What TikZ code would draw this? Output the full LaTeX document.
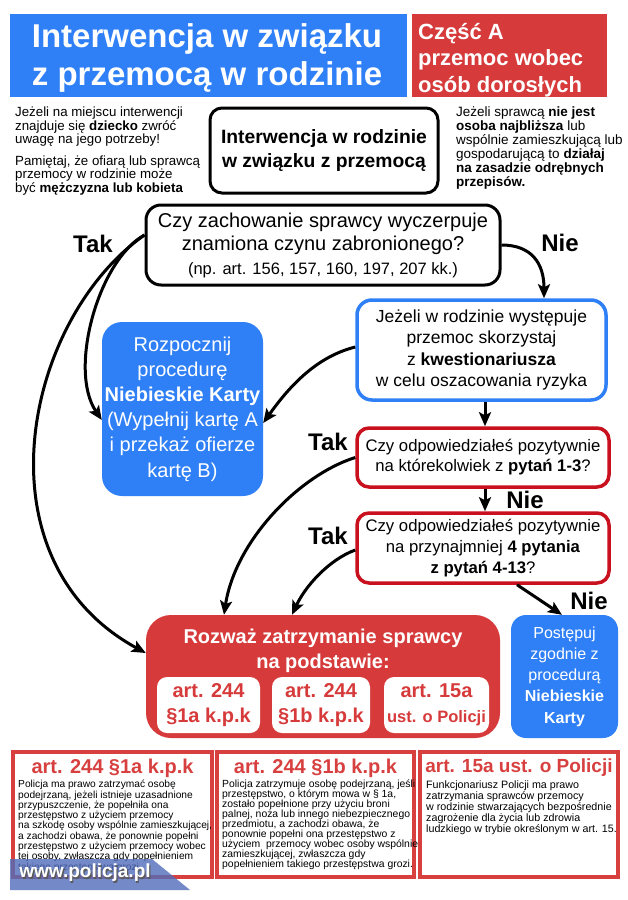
\documentclass[tikz,border=0pt]{standalone}
\usepackage{fontspec}
\setmainfont{Liberation Sans}
\usetikzlibrary{arrows.meta}
\definecolor{ttlblue}{RGB}{47,128,246}
\definecolor{ttlred}{RGB}{214,58,58}
\definecolor{qred}{RGB}{200,16,30}
\definecolor{frred}{RGB}{216,64,64}
\definecolor{banner}{RGB}{82,108,186}
\newcommand{\fsz}[2]{\fontsize{#1pt}{#2pt}\selectfont}
\begin{document}
\begin{tikzpicture}[x=1pt,y=-1pt,
  arr/.style={line width=3pt,-{Stealth[length=14pt,width=12pt,inset=3pt]}},
  lbl/.style={inner sep=0pt,font=\bfseries\fsz{24}{24}},
  wbox/.style={fill=white,rounded corners=10pt,minimum height=56pt,inner sep=0pt,text=ttlred,font=\bfseries\fsz{20}{25},align=center},
  frame/.style={draw=frred,line width=3.5pt,minimum height=125pt,inner sep=0pt},
  ftitle/.style={inner sep=0pt,text=frred,font=\bfseries\fsz{20}{20}},
  fbody/.style={anchor=north west,inner sep=0pt,align=left}
]
\useasboundingbox (0,0) rectangle (628,900);
\fill[white] (0,0) rectangle (628,900);

% header
\node[fill=ttlblue,minimum width=397pt,minimum height=83pt,inner sep=0pt] (title) at (208.5,55.5) {};
\node[inner sep=0pt,text=white,font=\bfseries\fsz{33}{38},align=center] (titletxt) at (207,58) {Interwencja w związku\\z przemocą w rodzinie};
\node[fill=ttlred,minimum width=195pt,minimum height=83pt,inner sep=0pt] (partA) at (509.5,55.5) {};
\node[anchor=west,inner sep=0pt,text=white,font=\bfseries\fsz{22}{26.5},align=left] (partAtxt) at (418,60) {Część A\\przemoc wobec\\osób dorosłych};

% notes
\node[anchor=north west,inner sep=0pt,align=left,font=\fsz{13.3}{13.5}] (noteL) at (15,107) {Jeżeli na miejscu interwencji\\znajduje się \textbf{dziecko} zwróć\\uwagę na jego potrzeby!\\[8pt]Pamiętaj, że ofiarą lub sprawcą\\przemocy w rodzinie może\\być \textbf{mężczyzna lub kobieta}};
\node[draw,line width=3pt,rounded corners=12pt,minimum width=228pt,minimum height=85pt,inner sep=0pt,font=\bfseries\fsz{19.3}{24},align=center] (intro) at (324,150.5) {Interwencja w rodzinie\\w związku z przemocą};
\node[anchor=north west,inner sep=0pt,align=left,font=\fsz{13.5}{14}] (noteR) at (456,107) {Jeżeli sprawcą \textbf{nie jest}\\\textbf{osoba najbliższa} lub\\wspólnie zamieszkującą lub\\gospodarującą to \textbf{działaj}\\\textbf{na zasadzie odrębnych}\\\textbf{przepisów.}};

% question 1
\node[draw,line width=3pt,rounded corners=15pt,minimum width=354pt,minimum height=80pt,inner sep=0pt,align=center,font=\fsz{20}{23.5}] (q1) at (323,245) {Czy zachowanie sprawcy wyczerpuje\\znamiona czynu zabronionego?\\{\fsz{16.5}{20}(np. art. 156, 157, 160, 197, 207 kk.)}};

% questionnaire
\node[draw=ttlblue,line width=3.5pt,rounded corners=15pt,minimum width=249pt,minimum height=100pt,inner sep=0pt,align=center,font=\fsz{17.5}{21.5}] (quest) at (481.5,350) {Jeżeli w rodzinie występuje\\przemoc skorzystaj\\z \textbf{kwestionariusza}\\w celu oszacowania ryzyka};

\node[fill=ttlblue,rounded corners=20pt,minimum width=161pt,minimum height=174pt,inner sep=0pt,align=center,text=white,font=\fsz{20}{25.2}] (rozp) at (182.5,409) {Rozpocznij\\procedurę\\\textbf{Niebieskie Karty}\\(Wypełnij kartę A\\i przekaż ofierze\\kartę B)};

\node[draw=qred,line width=3.5pt,rounded corners=12pt,minimum width=252pt,minimum height=59pt,inner sep=0pt,align=center,font=\fsz{16.7}{20}] (r1) at (483,457.5) {Czy odpowiedziałeś pozytywnie\\na którekolwiek z \textbf{pytań 1-3}?};
\node[draw=qred,line width=3.5pt,rounded corners=12pt,minimum width=252pt,minimum height=70pt,inner sep=0pt,align=center,font=\fsz{16.7}{21}] (r2) at (483,548) {Czy odpowiedziałeś pozytywnie\\na przynajmniej \textbf{4 pytania}\\\textbf{z pytań 4-13}?};

% detention box
\node[fill=ttlred,rounded corners=25pt,minimum width=354pt,minimum height=123pt,inner sep=0pt] (det) at (323,676.5) {};
\node[inner sep=0pt,text=white,font=\bfseries\fsz{20}{25},align=center] (dettitle) at (323,651) {Rozważ zatrzymanie sprawcy\\na podstawie:};
\node[wbox,minimum width=103pt] (wa) at (208.5,705) {art. 244\\§1a k.p.k};
\node[wbox,minimum width=98pt] (wb) at (321,705) {art. 244\\§1b k.p.k};
\node[wbox,minimum width=105pt] (wc) at (436.5,705) {art. 15a\\{\fsz{16.5}{25}ust. o Policji}};

\node[fill=ttlblue,rounded corners=15pt,minimum width=107pt,minimum height=123pt,inner sep=0pt,align=center,text=white,font=\fsz{16}{21.3}] (post) at (564.5,676.5) {Postępuj\\zgodnie z\\procedurą\\\textbf{Niebieskie}\\\textbf{Karty}};

% labels
\node[lbl] (tak1) at (93,244) {Tak};
\node[lbl] (nie1) at (560,243) {Nie};
\node[lbl] (tak2) at (328,442) {Tak};
\node[lbl] (nie2) at (525,500) {Nie};
\node[lbl] (tak3) at (328,536) {Tak};
\node[lbl] (nie3) at (589,601) {Nie};

% arrows
\draw[arr] ([yshift=10pt]q1.west) .. controls +(-46,25) and +(-34,-50) .. ([yshift=-11pt]rozp.west);
\draw[arr] ([yshift=10pt]q1.west) .. controls +(-121,85) and +(-171,-93) .. ([yshift=23.5pt]det.west);
\draw[arr] (q1.east) .. controls +(30,0) and +(0,-35) .. ([xshift=62.5pt]quest.north);
\draw[arr] ([yshift=3pt]quest.west) .. controls +(-40,10) and +(25,-35) .. ([yshift=-14pt]rozp.east);
\draw[arr] ([xshift=3.5pt]quest.south) -- ([xshift=2pt]r1.north);
\draw[arr] ([xshift=2pt]r1.south) -- ([xshift=2pt]r2.north);
\draw[arr] (r1.west) .. controls +(-57,18) and +(11,-73) .. ([xshift=-99pt]det.north);
\draw[arr] ([yshift=-2pt]r2.west) .. controls +(-27,10) and +(13,-28) .. ([xshift=-31pt]det.north);
\draw[arr] ([xshift=34pt]r2.south) -- ([xshift=-2.5pt]post.north);

% bottom frames
\node[frame,minimum width=199pt] (f1) at (112.5,814.5) {};
\node[frame,minimum width=197pt] (f2) at (315.5,814.5) {};
\node[frame,minimum width=198pt] (f3) at (519,814.5) {};
\node[ftitle] (t1) at (112.5,768) {art. 244 §1a k.p.k};
\node[ftitle] (t2) at (315.5,768) {art. 244 §1b k.p.k};
\node[ftitle,font=\bfseries\fsz{19}{20}] (t3) at (519,768) {art. 15a ust. o Policji};
\node[fbody,font=\fsz{10.2}{10.3}] (b1) at (18,780) {Policja ma prawo zatrzymać osobę\\podejrzaną, jeżeli istnieje uzasadnione\\przypuszczenie, że popełniła ona\\przestępstwo z użyciem przemocy\\na szkodę osoby wspólnie zamieszkującej,\\a zachodzi obawa, że ponownie popełni\\przestępstwo z użyciem przemocy wobec\\tej osoby, zwłaszcza gdy popełnieniem\\takiego przestępstwa grozi.};
\node[fbody,font=\fsz{10.4}{10}] (b2) at (222,780) {Policja zatrzymuje osobę podejrzaną, jeśli\\przestępstwo, o którym mowa w § 1a,\\zostało popełnione przy użyciu broni\\palnej, noża lub innego niebezpiecznego\\przedmiotu, a zachodzi obawa, że\\ponownie popełni ona przestępstwo z\\użyciem\ \ przemocy wobec osoby wspólnie\\zamieszkującej, zwłaszcza gdy\\popełnieniem takiego przestępstwa grozi.};
\node[fbody,font=\fsz{10.7}{11}] (b3) at (426,781) {Funkcjonariusz Policji ma prawo\\zatrzymania sprawców przemocy\\w rodzinie stwarzających bezpośrednie\\zagrożenie dla życia lub zdrowia\\ludzkiego w trybie określonym w art. 15.};

% banner
\fill[banner,opacity=0.8] (10,859) -- (152,859) -- (190,890) -- (10,890) -- cycle;
\node[inner sep=0pt,text=black!65,font=\bfseries\fsz{19}{19}] (wwwsh) at (86.2,874.2) {www.policja.pl};
\node[inner sep=0pt,text=white,font=\bfseries\fsz{19}{19}] (www) at (85,873) {www.policja.pl};
\end{tikzpicture}
\end{document}
